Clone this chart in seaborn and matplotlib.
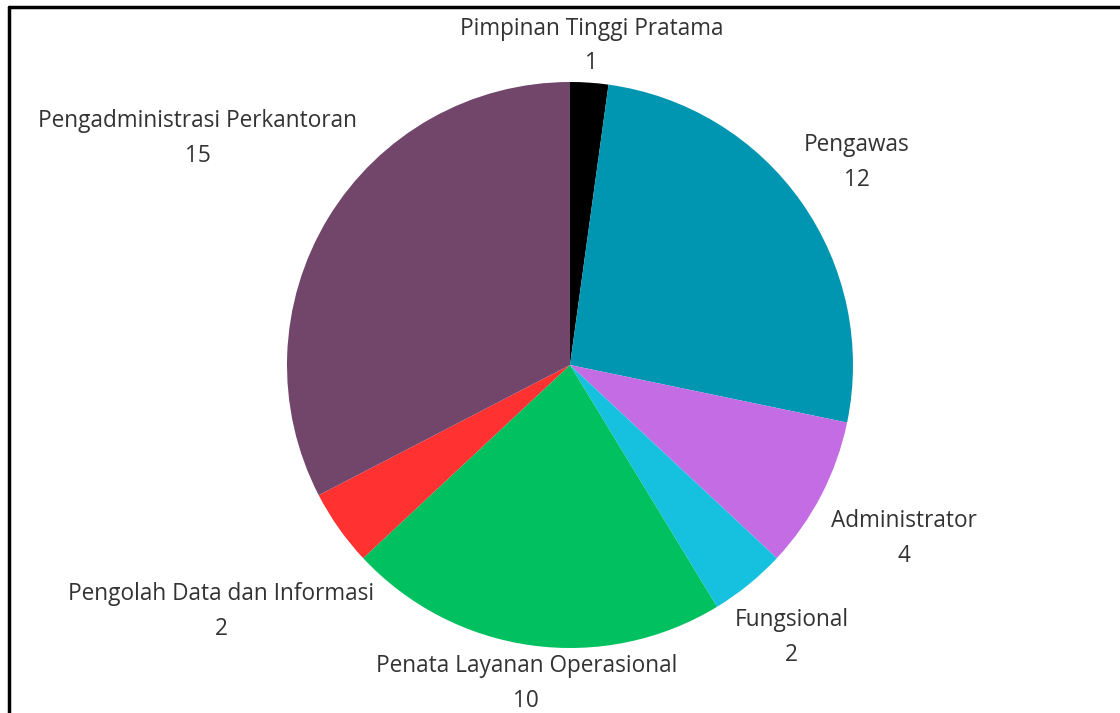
import numpy as np
import matplotlib
matplotlib.use("Agg")
import matplotlib.pyplot as plt
import seaborn as sns

# data
jabatan = ["Pimpinan Tinggi Pratama", "Pengawas", "Administrator", "Fungsional",
           "Penata Layanan Operasional", "Pengolah Data dan Informasi",
           "Pengadministrasi Perkantoran"]
jumlah = [1, 12, 4, 2, 10, 2, 15]
warna = ["#000000", "#0096b1", "#c36ce4", "#16c1df", "#00c05f", "#ff3131", "#72456a"]

# how far each label sits from the centre (in pie radii)
label_dist = [1.13, 1.24, 1.33, 1.24, 1.135, 1.51, 1.54]

sns.set_theme(style="white")
plt.rcParams["font.family"] = ["Open Sans", "DejaVu Sans"]

fig = plt.figure(figsize=(11.2, 7.13), dpi=100)
ax = fig.add_axes([0, 0, 1, 1])

r_px = 283.0
cx, cy = 570.0, 365.0
W, H = 1120.0, 713.0

wedges, _ = ax.pie(jumlah, colors=sns.color_palette(warna), startangle=90,
                   counterclock=False, radius=1.0,
                   wedgeprops=dict(linewidth=0))

for w, lab, val, d in zip(wedges, jabatan, jumlah, label_dist):
    mid = np.deg2rad((w.theta1 + w.theta2) / 2)
    x, y = d * np.cos(mid), d * np.sin(mid)
    ax.text(x, y, f"{lab}\n{val}", ha="center", va="center", fontsize=16.3,
            color="#333333", linespacing=1.6)

ax.set_xlim(-cx / r_px, (W - cx) / r_px)
ax.set_ylim(-(H - cy) / r_px, cy / r_px)
ax.set_aspect("equal")
ax.axis("off")

# frame of the screenshot
fig.add_artist(plt.Line2D([9 / W, 9 / W], [0, 1 - 7 / H], color="black", lw=2.5,
                          transform=fig.transFigure))
fig.add_artist(plt.Line2D([9 / W, 1], [1 - 7 / H, 1 - 7 / H], color="black", lw=2.5,
                          transform=fig.transFigure))

fig.savefig("out.png", dpi=100)
